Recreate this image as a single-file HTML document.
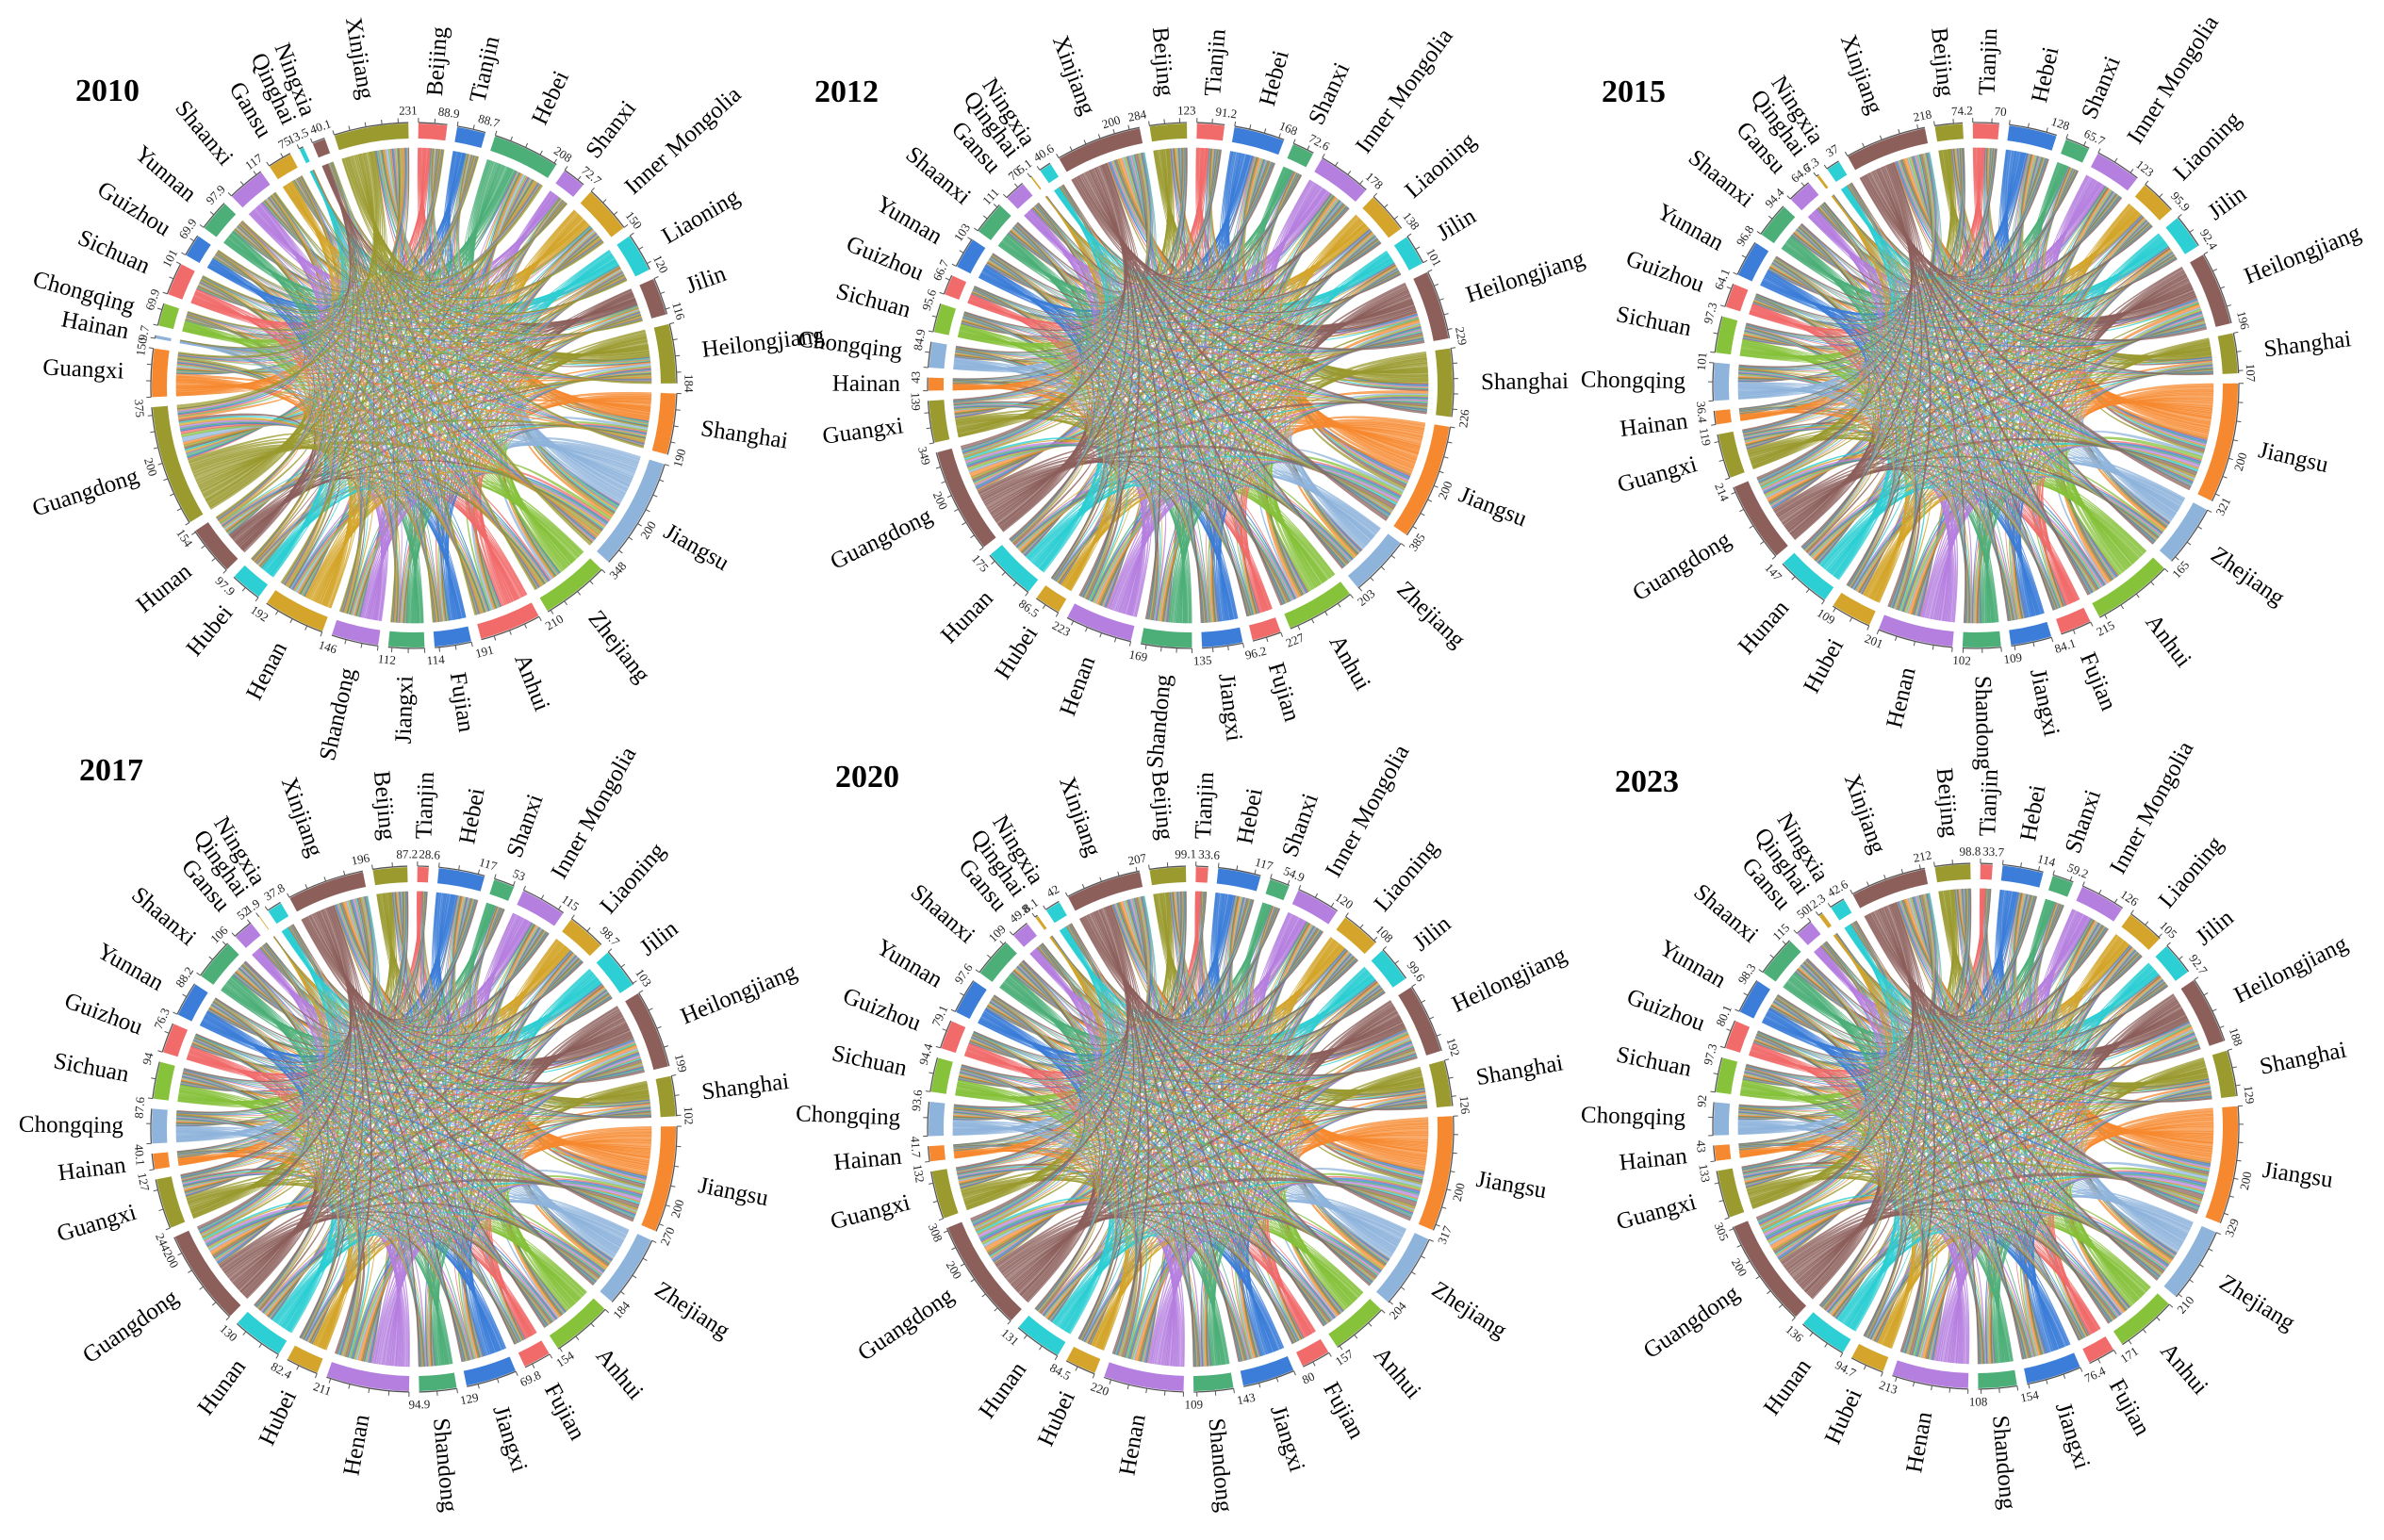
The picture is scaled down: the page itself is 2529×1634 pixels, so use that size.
<!DOCTYPE html>
<html><head><meta charset="utf-8">
<style>
html,body{margin:0;padding:0;background:#fff;}
svg{display:block;font-family:"Liberation Serif","Times New Roman",serif;}
</style></head>
<body>
<svg id="chart" width="2529" height="1634" viewBox="0 0 2529 1634" xmlns="http://www.w3.org/2000/svg">
<rect width="2529" height="1634" fill="#fff"/>
</svg>
<script>
const provinces = ["Beijing","Tianjin","Hebei","Shanxi","Inner Mongolia","Liaoning","Jilin","Heilongjiang","Shanghai","Jiangsu","Zhejiang","Anhui","Fujian","Jiangxi","Shandong","Henan","Hubei","Hunan","Guangdong","Guangxi","Hainan","Chongqing","Sichuan","Guizhou","Yunnan","Shaanxi","Gansu","Qinghai","Ningxia","Xinjiang"];
const years = ["2010","2012","2015","2017","2020","2023"];
const v2010 = [88.9,88.7,208,72.7,150,120,116,184,190,348,210,191,114,112,146,192,97.9,154,375,150,9.7,69.9,101,69.9,97.9,117,75.0,13.5,40.1,231];
const v2012 = [123,91.2,168,72.6,178,138,101,229,226,385,203,227,96.2,135,169,223,86.5,175,349,139,43,84.9,95.6,66.7,103,111,70,5.1,40.6,284];
const v2015 = [74.2,70,128,65.7,123,95.9,92.4,196,107,321,165,215,84.1,109,102,201,109,147,214,119,36.4,101,97.3,64.1,96.8,94.4,64.6,7.3,37,218];
const v2017 = [87.2,28.6,117,53,115,98.7,103,199,102,270,184,154,69.8,129,94.9,211,82.4,130,244,127,40.1,87.6,94,76.3,88.2,106,52.0,1.9,37.8,196];
const v2020 = [99.1,33.6,117,54.9,120,108,99.6,192,126,317,204,157,80,143,109,220,84.5,131,308,132,41.7,93.6,94.4,79.1,97.6,109,49.8,8.1,42,207];
const v2023 = [98.8,33.7,114,59.2,126,105,92.7,188,129,329,210,171,76.4,154,108,213,94.7,136,305,133,43,92,97.3,80.1,98.3,115,50.0,12.3,42.6,212];
const panelValues = [v2010,v2012,v2015,v2017,v2020,v2023];

const PAL = ['#f26b6b','#3b7dd8','#4caf78','#b57fe0','#d4a52a','#2ccfd3','#8c5f5b','#9a9a2e','#f6892f','#8fb4dc','#86c23a'];
const layout = [
  {cx:439,cy:409,start:1,title:[80,107]},
  {cx:1263,cy:409,start:-9,title:[864,108]},
  {cx:2096,cy:409,start:-9,title:[1699,108]},
  {cx:439,cy:1198,start:-9,title:[84,828]},
  {cx:1263,cy:1198,start:-9,title:[886,835]},
  {cx:2096,cy:1195,start:-9,title:[1713,840]}
];
const NS = 'http://www.w3.org/2000/svg';
const svg = document.getElementById('chart');
function mk(tag, attrs, parent){
  const e = document.createElementNS(NS, tag);
  for (const k in attrs) e.setAttribute(k, attrs[k]);
  parent.appendChild(e); return e;
}
const D = Math.PI/180;
function fmt(v){ return String(v); }

function drawPanel(p){
  const vals = panelValues[p];
  const L = layout[p];
  const cx = L.cx, cy = L.cy;
  const pt = (a,r)=>[cx + r*Math.sin(a*D), cy - r*Math.cos(a*D)];
  const P = (a,r)=>{const q=pt(a,r);return q[0].toFixed(2)+','+q[1].toFixed(2);};
  const color = i => p===0 ? PAL[i%11] : (i===0 ? PAL[7] : PAL[(i-1)%11]);
  const n = vals.length;
  const S = vals.reduce((a,b)=>a+b,0);
  const gap = 2.2;
  const k = (360 - n*gap)/S;
  const g = mk('g',{},svg);
  
  
  const t = mk('text',{x:L.title[0],y:L.title[1],'font-size':34,'font-weight':'bold',fill:'#000'},g);
  t.textContent = years[p];
  
  
  const a0=[], a1=[];
  let a = L.start;
  for (let i=0;i<n;i++){ a0.push(a); a1.push(a+vals[i]*k); a = a + vals[i]*k + gap; }
  const R = 252;
  const chordG = mk('g',{'fill-opacity':0.72,'stroke-opacity':0.6,'stroke-width':0.7},g);
  
  
  const inStart = [];
  for (let i=0;i<n;i++) inStart.push(a0[i] + (a1[i]-a0[i])/2);
  const inOffsets = [];
  for (let j=0;j<n;j++){
    const half = (a1[j]-a0[j])/2; const den = S - vals[j];
    const offs = []; let c = inStart[j];
    for (let i=0;i<n;i++){ if(i===j){offs.push(null);continue;} const w = half*vals[i]/den; offs.push([c,c+w]); c+=w; }
    inOffsets.push(offs);
  }
  for (let i=0;i<n;i++){
    const half = (a1[i]-a0[i])/2; const den = S - vals[i];
    let c = a0[i];
    for (let jj=1;jj<n;jj++){
      const j = (i+jj)%n;
      const w = half*vals[j]/den;
      const s1=c, s2=c+w; c+=w;
      const tt = inOffsets[j][i];
      const d = 'M'+P(s1,R)+' A'+R+','+R+' 0 0 1 '+P(s2,R)+' Q'+cx+','+cy+' '+P(tt[0],R)+
                ' A'+R+','+R+' 0 0 1 '+P(tt[1],R)+' Q'+cx+','+cy+' '+P(s1,R)+' Z';
      const path = mk('path',{d:d,fill:color(i),stroke:color(i)},chordG);
      
      
    }
  }
  const r1=262, r2=278;
  for (let i=0;i<n;i++){
    const b0=a0[i], b1=a1[i];
    const large = (b1-b0)>180?1:0;
    const d='M'+P(b0,r2)+' A'+r2+','+r2+' 0 '+large+' 1 '+P(b1,r2)+' L'+P(b1,r1)+' A'+r1+','+r1+' 0 '+large+' 0 '+P(b0,r1)+' Z';
    const band = mk('path',{d:d,fill:color(i)},g);
    
    
    const ax = mk('path',{d:'M'+P(b0,r2+1)+' A'+(r2+1)+','+(r2+1)+' 0 '+large+' 1 '+P(b1,r2+1),fill:'none',stroke:'#555','stroke-width':1.3},g);
    
    
    for (let v=0; v<=vals[i]+1e-6; v+=50){
      const ta = b0 + v*k;
      const tk = mk('line',{x1:pt(ta,r2+1)[0],y1:pt(ta,r2+1)[1],x2:pt(ta,r2+6)[0],y2:pt(ta,r2+6)[1],stroke:'#555','stroke-width':1},g);
      
      
      if (v>0 && v%200===0 && vals[i]-v>40){
        addVal(ta, v);
      }
    }
    addVal(b1, vals[i]);
    const mid = (b0+b1)/2;
    const m = ((mid%360)+360)%360;
    const rl = 308;
    const q = pt(mid, rl);
    const right = m < 180;
    const rot = right ? mid-90 : mid+90;
    const nm = mk('text',{x:q[0].toFixed(1),y:q[1].toFixed(1),'font-size':25,fill:'#000','text-anchor':right?'start':'end','dominant-baseline':'central',transform:'rotate('+rot.toFixed(2)+' '+q[0].toFixed(1)+' '+q[1].toFixed(1)+')'},g);
    nm.textContent = provinces[i];
    
    
  }
  function addVal(ang, v){
    const m = ((ang%360)+360)%360;
    const q = pt(ang, 292);
    const rot = (m>90 && m<270) ? ang-180 : ang;
    const tx = mk('text',{x:q[0].toFixed(1),y:q[1].toFixed(1),'font-size':13,fill:'#222','text-anchor':'middle','dominant-baseline':'central',transform:'rotate('+rot.toFixed(2)+' '+q[0].toFixed(1)+' '+q[1].toFixed(1)+')'},g);
    tx.textContent = fmt(v);
    
    
  }
}
for (let p=0;p<6;p++) drawPanel(p);
</script>
</body></html>
